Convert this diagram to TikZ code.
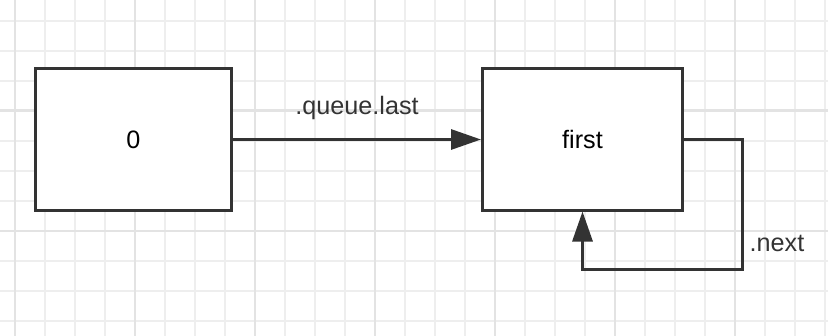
\documentclass[tikz,border=0pt]{standalone}
\usepackage{fontspec}
\setmainfont{Liberation Sans}
\usepackage{tikz}
\usetikzlibrary{arrows.meta,positioning}
\definecolor{inkgray}{HTML}{333333}
\definecolor{gridminor}{HTML}{EEEEEE}
\definecolor{gridmajor}{HTML}{E3E3E3}

\begin{document}
\begin{tikzpicture}[x=0.5pt,y=-0.5pt,font=\fontsize{12.6}{14}\selectfont,
    box/.style={draw=inkgray,line width=1.5pt,fill=white,minimum width=98pt,minimum height=70.5pt,inner sep=0pt},
    link/.style={draw=inkgray,line width=1.5pt,-{Triangle[length=15pt,width=10pt]}},
    label/.style={text=inkgray,inner sep=0pt}]
\useasboundingbox[fill=white] (0,0) rectangle (828,336);
% paper grid
\foreach \x in {15,45,...,825} \draw[gridminor,line width=1pt] (\x,0) -- (\x,336);
\foreach \y in {20.7,50.7,...,336} \draw[gridminor,line width=1pt] (0,\y) -- (828,\y);
\foreach \x in {15,135,...,825} \draw[gridmajor,line width=1.2pt] (\x,0) -- (\x,336);
\foreach \y in {110.7,230.7} \draw[gridmajor,line width=1.2pt] (0,\y) -- (828,\y);

\node[box] (zero) at (133.5,139.5) {0};
\node[box,minimum width=100pt] (first) at (582.5,139.5) {first};

\draw[link] (zero) -- node[label,pos=0.5,yshift=16pt] (lastlbl) {.queue.last} (first);

% self loop on first
\coordinate (loopturn) at (742,269);
\draw[link] (first.east) -| (loopturn) -| (first.south);
\node[label] (nextlbl) at (777,243) {.next};
\end{tikzpicture}
\end{document}
